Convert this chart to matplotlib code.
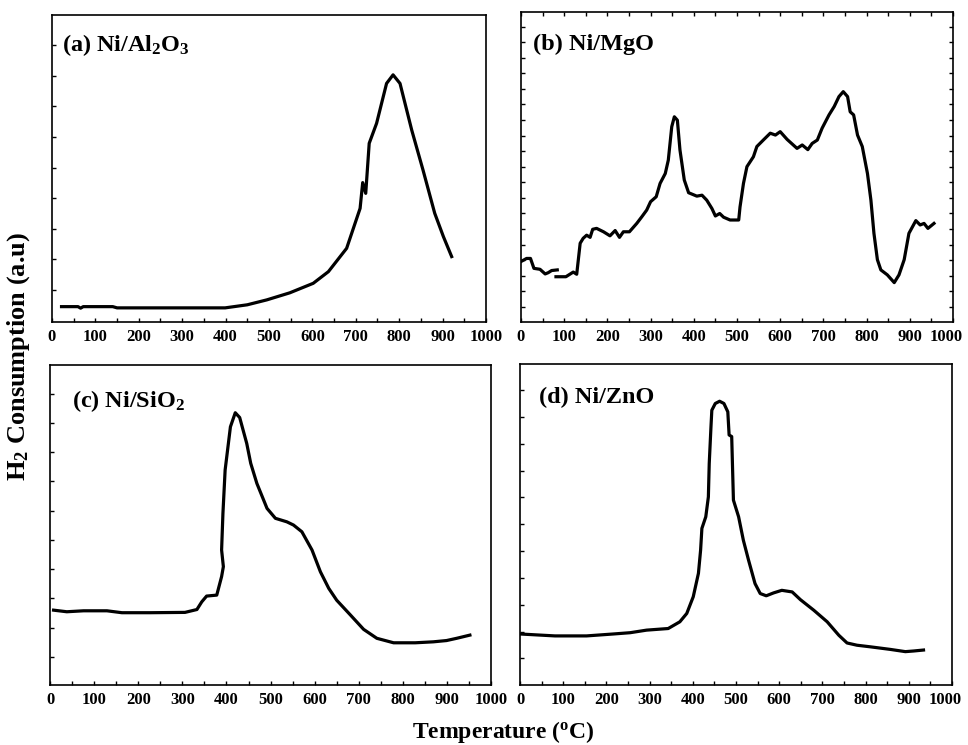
"""
H2-TPR profiles of Ni catalysts on four supports
"""

import numpy as np
import matplotlib
matplotlib.use('Agg')
import matplotlib.pyplot as plt
from matplotlib.ticker import MultipleLocator, FixedLocator, NullFormatter
from matplotlib.transforms import ScaledTranslation

#------------------------------------------------------------------#
# Data (temperature in C, signal in a.u.)

# (a) Ni/Al2O3
T_a = [22, 60, 66, 72, 140, 150, 250, 399, 450, 495, 548, 602, 637, 679, 710,
       716, 723, 731, 748, 771, 786, 802, 829, 855, 882, 902, 921]
H2_a = [5.0, 5.0, 4.5, 5.0, 5.0, 4.6, 4.6, 4.6, 5.6, 7.2, 9.5, 12.6, 16.4,
        24.0, 37.0, 45.4, 41.9, 58.2, 64.7, 77.7, 80.5, 77.7, 62.5, 49.5,
        35.4, 27.8, 21.3]

# (b) Ni/MgO  (trace has a small break near 85 C)
T_b = [0, 13, 22, 30, 44, 56, 63, 71, 84, np.nan,
       81, 104, 121, 129, 137, 144, 152, 160, 166, 175, 191, 206, 218, 228,
       237, 251, 268, 280, 291, 300, 313, 322, 334, 341, 349, 355, 362, 368,
       378, 388, 407, 419, 430, 442, 450, 460, 469, 484, 504, 507, 515, 523,
       538, 546, 561, 577, 589, 600, 616, 639, 651, 664, 674, 686, 697, 713,
       725, 736, 746, 756, 762, 770, 779, 790, 802, 810, 817, 825, 833, 848,
       864, 875, 887, 898, 914, 924, 933, 942, 956]
H2_b = [19.5, 20.5, 20.5, 17.3, 17.0, 15.5, 15.9, 16.6, 16.8, np.nan,
        14.6, 14.6, 16.1, 15.4, 25.4, 27.0, 28.0, 27.3, 29.9, 30.2, 29.1,
        27.8, 29.5, 27.3, 29.1, 29.1, 31.8, 34.0, 36.1, 38.8, 40.4, 44.7,
        47.9, 52.2, 63.0, 66.2, 65.1, 55.5, 45.8, 41.7, 40.6, 40.9, 39.3,
        36.6, 34.2, 35.0, 33.8, 32.9, 32.9, 37.1, 44.7, 50.1, 53.3, 56.6,
        58.7, 60.9, 60.3, 61.4, 58.9, 56.0, 57.1, 55.6, 57.6, 58.7, 62.5,
        66.8, 69.5, 72.7, 74.3, 72.7, 67.8, 66.8, 60.3, 56.6, 47.9, 39.3,
        28.6, 20.1, 16.8, 15.2, 12.7, 15.2, 20.1, 28.6, 32.7, 31.3, 31.8,
        30.2, 31.8]

# (c) Ni/SiO2
T_c = [8, 38, 76, 129, 163, 227, 306, 333, 344, 355, 378, 389, 393, 389,
       392, 397, 409, 420, 430, 446, 455, 469, 492, 511, 537, 552, 571, 594,
       613, 632, 650, 681, 711, 741, 779, 828, 869, 899, 922, 952]
H2_c = [23.4, 22.9, 23.2, 23.2, 22.6, 22.6, 22.7, 23.6, 26.0, 27.8, 28.1,
        33.9, 37.0, 42.2, 53.6, 67.2, 80.7, 85.1, 83.6, 75.5, 69.3, 63.0,
        55.2, 52.1, 51.0, 50.0, 47.9, 42.2, 35.4, 30.2, 26.5, 21.9, 17.4,
        14.6, 13.2, 13.2, 13.5, 13.9, 14.6, 15.6]

# (d) Ni/ZnO
T_d = [0, 81, 154, 216, 255, 293, 343, 370, 386, 401, 413, 418, 421, 430,
       436, 438, 442, 444, 452, 462, 472, 481, 484, 490, 494, 506, 517, 529,
       544, 556, 570, 587, 606, 630, 649, 680, 711, 738, 757, 780, 811, 857,
       892, 911, 934]
H2_d = [15.9, 15.3, 15.3, 15.9, 16.3, 17.1, 17.6, 19.7, 22.3, 27.5, 34.8,
        42.0, 48.8, 52.4, 58.6, 69.0, 80.4, 85.6, 87.7, 88.4, 87.7, 85.1,
        77.9, 77.4, 57.6, 52.4, 45.1, 38.9, 31.6, 28.5, 27.8, 28.7, 29.5,
        29.0, 26.6, 23.3, 19.7, 15.5, 13.1, 12.4, 11.9, 11.1, 10.4, 10.6,
        10.9]

LABELS = [r'(a) Ni/Al$_2$O$_3$', '(b) Ni/MgO', r'(c) Ni/SiO$_2$', '(d) Ni/ZnO']

#------------------------------------------------------------------#
# Style

plt.rcParams['font.family'] = 'Liberation Serif'
plt.rcParams['font.weight'] = 'bold'
plt.rcParams['mathtext.fontset'] = 'custom'
plt.rcParams['mathtext.rm'] = 'Liberation Serif:bold'
plt.rcParams['mathtext.it'] = 'Liberation Serif:bold'
plt.rcParams['mathtext.bf'] = 'Liberation Serif:bold'

fig = plt.figure(figsize=(9.68, 7.45), dpi=100)

rects = [[0.0537, 0.5678, 0.4483, 0.4121],
         [0.5382, 0.5678, 0.4463, 0.4161],
         [0.0517, 0.0805, 0.4556, 0.4295],
         [0.5372, 0.0805, 0.4463, 0.4309]]
series = [(T_a, H2_a), (T_b, H2_b), (T_c, H2_c), (T_d, H2_d)]
label_pos = [(0.024, 0.884), (0.027, 0.877), (0.049, 0.868), (0.045, 0.878)]
yticks = [np.linspace(10.4, 90.2, 9), np.linspace(4.9, 95.3, 19),
          np.linspace(8.8, 91.1, 10), np.linspace(8.3, 91.9, 11)]

# small leftward nudge so the right-most "1000" stays on the canvas
nudge = ScaledTranslation(-5 / 72, 0, fig.dpi_scale_trans)

for i in range(4):
    ax = fig.add_axes(rects[i])
    T, H2 = series[i]
    ax.plot(T, H2, color='black', lw=2.3)
    ax.set_xlim(0, 1000)
    ax.set_ylim(0, 100)

    ax.xaxis.set_major_locator(FixedLocator(np.arange(0, 1001, 100)))
    ax.xaxis.set_minor_locator(MultipleLocator(50))
    ax.yaxis.set_major_locator(FixedLocator(yticks[i]))
    ax.yaxis.set_major_formatter(NullFormatter())

    both = (i == 1)  # only (b) carries ticks on all four sides
    ax.tick_params(which='both', direction='in', length=3, width=1,
                   top=both, right=both, labelsize=12, pad=5)
    for sp in ax.spines.values():
        sp.set_linewidth(1.2)

    if i in (1, 3):
        lbl = ax.xaxis.get_major_ticks()[-1].label1
        lbl.set_transform(lbl.get_transform() + nudge)

    ax.text(label_pos[i][0], label_pos[i][1], LABELS[i], transform=ax.transAxes,
            fontsize=17.5, fontweight='bold', ha='left', va='baseline')

fig.text(0.019, 0.522, r'H$_2$ Consumption (a.u)', rotation=90,
         fontsize=19, fontweight='bold', ha='center', va='center')
fig.text(0.52, 0.017, r'Temperature ($^{\mathrm{o}}$C)',
         fontsize=17, fontweight='bold', ha='center', va='center')

fig.savefig('out.png', dpi=100)
